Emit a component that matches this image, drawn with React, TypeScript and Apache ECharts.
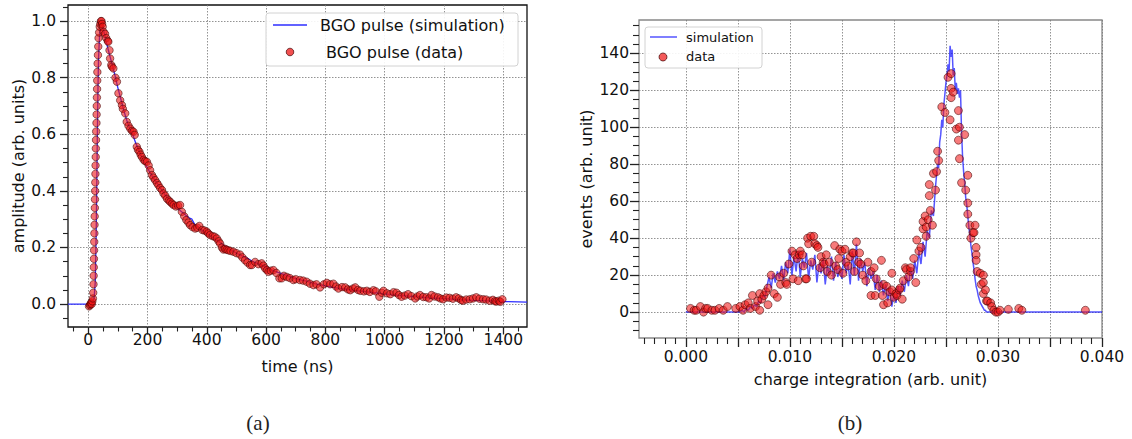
import React, { useEffect, useRef } from "react";
import * as echarts from "echarts";

// ---------- (a) BGO pulse ----------
const pulseTimeTicks = [0, 200, 400, 600, 800, 1000, 1200, 1400];
const pulseAmpTicks = [0, 0.2, 0.4, 0.6, 0.8, 1.0];

const pulseSim: number[][] = [
  [-68, 0], [10, 0], [15, 0.005], [20, 0.02], [24, 0.08], [27, 0.25], [29, 0.42], [31, 0.6],
  [33, 0.76], [35, 0.87], [38, 0.94], [41, 0.98], [44, 0.995], [47, 0.99], [50, 0.975],
  [55, 0.955], [60, 0.93], [70, 0.89], [80, 0.85], [90, 0.81], [100, 0.765], [110, 0.725],
  [120, 0.685], [130, 0.65], [140, 0.62], [150, 0.6], [160, 0.57], [170, 0.545], [180, 0.52],
  [190, 0.5], [200, 0.48], [220, 0.445], [240, 0.415], [260, 0.385], [280, 0.36], [300, 0.34],
  [320, 0.322], [340, 0.305], [350, 0.3], [360, 0.28], [380, 0.264], [400, 0.25], [420, 0.235],
  [440, 0.222], [460, 0.205], [480, 0.193], [500, 0.18], [520, 0.17], [540, 0.16], [560, 0.148],
  [580, 0.14], [600, 0.13], [620, 0.12], [640, 0.112], [660, 0.105], [680, 0.097], [700, 0.09],
  [720, 0.085], [740, 0.08], [760, 0.073], [780, 0.068], [800, 0.064], [850, 0.055], [900, 0.048],
  [950, 0.042], [1000, 0.036], [1050, 0.031], [1100, 0.026], [1150, 0.022], [1200, 0.019],
  [1250, 0.016], [1300, 0.013], [1350, 0.011], [1400, 0.009], [1450, 0.008], [1480, 0.007],
];

const pulseData: number[][] = [
  [3, -0.008], [6, -0.004], [8, 0.0], [10, 0.005], [12, 0.0], [14, 0.01], [16, 0.02], [17, 0.04],
  [18, 0.07], [18.5, 0.1], [19, 0.13], [19.5, 0.16], [20, 0.19], [20.5, 0.22], [21, 0.25],
  [21.5, 0.28], [22, 0.31], [22.5, 0.34], [23, 0.37], [23.5, 0.4], [24, 0.43], [24.5, 0.46],
  [25, 0.49], [25.5, 0.52], [26, 0.55], [26.5, 0.58], [27, 0.61], [28, 0.64], [28.5, 0.67],
  [29, 0.7], [29.5, 0.73], [30, 0.76], [30.5, 0.79], [31, 0.82], [32, 0.85], [33, 0.88],
  [34, 0.91], [35, 0.94], [37, 0.96], [39, 0.98], [41, 0.99], [43, 1.0], [45, 1.0], [47, 0.99],
  [49, 0.98], [52, 0.962], [57, 0.955], [61, 0.94], [66, 0.93], [68, 0.927], [72, 0.897],
  [74, 0.868], [78, 0.845], [80, 0.839], [85, 0.833], [92, 0.8], [97, 0.786], [102, 0.745],
  [108, 0.72], [114, 0.703], [117, 0.69], [125, 0.674], [130, 0.644], [136, 0.63], [142, 0.62],
  [148, 0.612], [153, 0.609], [157, 0.598], [164, 0.556], [168, 0.545], [173, 0.538],
  [177, 0.528], [181, 0.52], [187, 0.51], [192, 0.505], [198, 0.503], [204, 0.49], [209, 0.473],
  [215, 0.456], [220, 0.447], [226, 0.438], [232, 0.428], [237, 0.42], [243, 0.41], [249, 0.403],
  [254, 0.391], [260, 0.383], [266, 0.372], [272, 0.366], [277, 0.361], [283, 0.355], [288, 0.35],
  [296, 0.345], [303, 0.348], [310, 0.35], [316, 0.326], [324, 0.31], [331, 0.297], [338, 0.288],
  [344, 0.279], [352, 0.272], [361, 0.267], [368, 0.27], [375, 0.276], [385, 0.262], [392, 0.26],
  [400, 0.256], [405, 0.25], [411, 0.244], [420, 0.24], [427, 0.238], [434, 0.232], [440, 0.222],
  [445, 0.214], [451, 0.2], [456, 0.193], [462, 0.195], [467, 0.192], [473, 0.19], [480, 0.188],
  [490, 0.185], [500, 0.18], [512, 0.175], [520, 0.165], [529, 0.155], [537, 0.147], [546, 0.138],
  [552, 0.138], [563, 0.149], [574, 0.141], [585, 0.144], [591, 0.136], [597, 0.126], [603, 0.12],
  [608, 0.114], [616, 0.118], [625, 0.12], [635, 0.11], [645, 0.091], [653, 0.091], [660, 0.1],
  [670, 0.096], [680, 0.092], [692, 0.085], [700, 0.088], [714, 0.085], [725, 0.083], [737, 0.079],
  [748, 0.072], [760, 0.067], [770, 0.07], [782, 0.059], [795, 0.07], [805, 0.075], [816, 0.07],
  [827, 0.072], [836, 0.062], [844, 0.055], [856, 0.06], [867, 0.059], [876, 0.052], [884, 0.049],
  [893, 0.055], [901, 0.059], [910, 0.05], [918, 0.047], [930, 0.045], [940, 0.047], [950, 0.043],
  [962, 0.049], [970, 0.045], [982, 0.026], [990, 0.04], [996, 0.047], [1008, 0.038], [1019, 0.035],
  [1030, 0.042], [1040, 0.04], [1048, 0.032], [1057, 0.026], [1068, 0.03], [1079, 0.035],
  [1090, 0.028], [1103, 0.02], [1110, 0.027], [1119, 0.032], [1130, 0.025], [1141, 0.024],
  [1150, 0.02], [1158, 0.032], [1168, 0.027], [1180, 0.024], [1188, 0.02], [1197, 0.017],
  [1208, 0.023], [1219, 0.022], [1230, 0.019], [1241, 0.024], [1250, 0.02], [1258, 0.014],
  [1264, 0.012], [1275, 0.016], [1287, 0.017], [1298, 0.02], [1309, 0.024], [1320, 0.019],
  [1332, 0.017], [1342, 0.016], [1354, 0.012], [1365, 0.015], [1372, 0.01], [1377, 0.009],
  [1385, 0.012], [1390, 0.008], [1397, 0.017],
];

// ---------- (b) charge spectrum ----------
const chargeTicks = [0, 0.005, 0.01, 0.015, 0.02, 0.025, 0.03, 0.035, 0.04];
const chargeLabelTicks = [0, 0.01, 0.02, 0.03, 0.04];
const eventTicks = [0, 20, 40, 60, 80, 100, 120, 140];

const chargeSim: number[][] = [
  [0, 0], [0.0050, 0], [0.0052, 0], [0.0054, 1], [0.0056, 0], [0.0058, 2], [0.0060, 1],
  [0.0062, 3], [0.0064, 2], [0.0066, 4], [0.0068, 3], [0.0070, 6], [0.0072, 5], [0.0074, 9],
  [0.0076, 8], [0.0078, 14], [0.0080, 19], [0.0082, 13], [0.0084, 21], [0.0086, 16],
  [0.0088, 22], [0.0090, 18], [0.0092, 25], [0.0094, 17], [0.0096, 27], [0.0098, 21],
  [0.0100, 34], [0.0102, 20], [0.0104, 30], [0.0106, 22], [0.0108, 33], [0.0110, 19],
  [0.0112, 29], [0.0114, 24], [0.0116, 32], [0.0118, 18], [0.0120, 28], [0.0122, 23],
  [0.0124, 31], [0.0126, 16], [0.0128, 26], [0.0130, 21], [0.0132, 29], [0.0134, 15],
  [0.0136, 25], [0.0138, 20], [0.0140, 30], [0.0142, 17], [0.0144, 27], [0.0146, 19],
  [0.0148, 24], [0.0150, 18], [0.0152, 31], [0.0154, 21], [0.0156, 26], [0.0158, 15],
  [0.0160, 33], [0.0162, 20], [0.0164, 37], [0.0166, 17], [0.0168, 29], [0.0170, 22],
  [0.0172, 27], [0.0174, 14], [0.0176, 24], [0.0178, 18], [0.0180, 22], [0.0182, 12],
  [0.0184, 20], [0.0186, 11], [0.0188, 17], [0.0190, 9], [0.0192, 15], [0.0194, 6],
  [0.0196, 13], [0.0198, 3], [0.0200, 10], [0.0202, 5], [0.0204, 14], [0.0206, 9],
  [0.0208, 17], [0.0210, 11], [0.0212, 20], [0.0214, 14], [0.0216, 24], [0.0218, 18],
  [0.0220, 28], [0.0222, 21], [0.0224, 33], [0.0226, 26], [0.0228, 38], [0.0230, 30],
  [0.0232, 44], [0.0234, 40], [0.0236, 55], [0.0238, 52], [0.0240, 68], [0.0241, 74],
  [0.0242, 80], [0.0243, 78], [0.0244, 92], [0.0245, 96], [0.0246, 104], [0.0247, 100],
  [0.0248, 112], [0.0249, 118], [0.0250, 124], [0.0251, 128], [0.0252, 134], [0.0253, 130],
  [0.0254, 144], [0.0255, 138], [0.0256, 142], [0.0257, 128], [0.0258, 132], [0.0259, 120],
  [0.0260, 124], [0.0261, 118], [0.0262, 121], [0.0263, 116], [0.0264, 120], [0.0265, 98],
  [0.0266, 84], [0.0267, 76], [0.0268, 70], [0.0269, 62], [0.0270, 58], [0.0271, 52],
  [0.0272, 46], [0.0273, 42], [0.0274, 36], [0.0275, 32], [0.0276, 27], [0.0277, 23],
  [0.0278, 18], [0.0279, 14], [0.0280, 12], [0.0281, 9], [0.0282, 7], [0.0283, 5], [0.0284, 4],
  [0.0285, 3], [0.0286, 2], [0.0287, 1], [0.0288, 1], [0.0289, 0], [0.0290, 0], [0.040, 0],
];

const chargeData: number[][] = [
  [0.00045, 2], [0.0008, 1], [0.001, 1], [0.0014, 3], [0.0017, 0], [0.0019, 2], [0.0021, 2],
  [0.0025, 1], [0.0028, 1], [0.0032, 2], [0.0036, 1], [0.004, 3], [0.0048, 2], [0.0052, 3],
  [0.0055, 1], [0.0057, 4], [0.006, 5], [0.0062, 2], [0.0064, 9], [0.0067, 3], [0.0069, 6],
  [0.0071, 1], [0.0071, 10], [0.0073, 7], [0.0075, 9], [0.0077, 11], [0.0079, 4], [0.0079, 13],
  [0.0082, 20], [0.0085, 10], [0.0088, 8], [0.009, 19], [0.0091, 15], [0.0094, 21], [0.0096, 16],
  [0.0097, 15], [0.0099, 26], [0.0102, 33], [0.0103, 18], [0.0105, 31], [0.0107, 29],
  [0.0108, 17], [0.0109, 31], [0.011, 33], [0.0112, 31], [0.0113, 25], [0.0115, 18], [0.0116, 18],
  [0.0117, 40], [0.0118, 37], [0.012, 41], [0.0121, 27], [0.0123, 41], [0.0124, 37], [0.0126, 36],
  [0.0127, 35], [0.0129, 24], [0.013, 30], [0.0132, 27], [0.0133, 26], [0.0135, 31], [0.0136, 22],
  [0.0138, 27], [0.014, 20], [0.0143, 36], [0.0144, 25], [0.0146, 23], [0.0147, 29], [0.0148, 34],
  [0.015, 33], [0.0151, 21], [0.0153, 34], [0.0154, 27], [0.0156, 25], [0.0158, 30], [0.016, 32],
  [0.0161, 32], [0.0162, 22], [0.0164, 38], [0.0166, 27], [0.0167, 32], [0.0168, 26], [0.017, 20],
  [0.0173, 17], [0.0175, 27], [0.0178, 22], [0.0178, 9], [0.0181, 24], [0.0182, 9], [0.0183, 18],
  [0.0186, 14], [0.0188, 28], [0.0189, 9], [0.019, 15], [0.019, 4], [0.0193, 14], [0.0194, 5],
  [0.0196, 11], [0.0198, 21], [0.0198, 12], [0.02, 8], [0.0202, 10], [0.0203, 9], [0.0205, 12],
  [0.0206, 13], [0.0208, 7], [0.0209, 17], [0.0211, 24], [0.0212, 23], [0.0214, 19], [0.0216, 22],
  [0.0216, 24], [0.0219, 29], [0.0221, 16], [0.0222, 39], [0.0224, 33], [0.0226, 35], [0.0228, 45],
  [0.0228, 49], [0.023, 52], [0.0231, 41], [0.0231, 46], [0.0233, 50], [0.0234, 63], [0.0234, 69],
  [0.0235, 55], [0.0237, 47], [0.0238, 75], [0.024, 66], [0.0241, 76], [0.0242, 87], [0.0243, 82],
  [0.0246, 111], [0.0249, 108], [0.0252, 127], [0.0254, 104], [0.0255, 129], [0.0255, 121],
  [0.0255, 116], [0.0257, 119], [0.026, 99], [0.0262, 109], [0.0262, 93], [0.0263, 100],
  [0.0263, 83], [0.0265, 70], [0.0268, 96], [0.0269, 66], [0.0271, 74], [0.0271, 59], [0.0271, 53],
  [0.0273, 47], [0.0274, 40], [0.0276, 43], [0.0277, 43], [0.0278, 47], [0.0279, 35], [0.0279, 31],
  [0.0279, 28], [0.028, 22], [0.0283, 21], [0.0284, 15], [0.0286, 20], [0.0286, 10], [0.0286, 16],
  [0.0288, 12], [0.0289, 6], [0.029, 6], [0.0293, 5], [0.0294, 3], [0.0296, 1], [0.0298, 0],
  [0.03, 0], [0.0302, 1], [0.031, 1.5], [0.032, 2], [0.0323, 1], [0.0384, 1],
];

// ---------- helpers ----------
const FONT = "DejaVu Sans";
const TICK = "#222";

function minorTicks(start: number, end: number, step: number, majors: number[], scale: number) {
  const out: number[] = [];
  const n = Math.round((end - start) / step);
  for (let i = 0; i <= n; i++) {
    const v = Math.round((start + i * step) * scale) / scale;
    if (!majors.some((m) => Math.abs(m - v) < step / 10)) out.push(v);
  }
  return out;
}

function majorAxis(p: any) {
  return {
    type: "value",
    gridIndex: p.grid,
    min: p.min,
    max: p.max,
    position: p.position,
    axisLine: { show: false, onZero: false },
    axisTick: {
      show: true,
      customValues: p.ticks,
      length: p.tickLen,
      lineStyle: { color: TICK, width: 1.3 },
    },
    axisLabel: {
      show: true,
      customValues: p.labels,
      margin: p.margin,
      fontSize: 15.5,
      color: "#111",
      fontFamily: FONT,
      formatter: p.fmt,
    },
    splitLine: {
      show: true,
      lineStyle: { type: [1.5, 1.5], color: "#777", width: 0.8 },
    },
    name: p.name,
    nameLocation: "middle",
    nameGap: p.nameGap,
    nameTextStyle: { fontSize: 16, color: "#111", fontFamily: FONT },
  };
}

function minorAxis(p: any) {
  return {
    type: "value",
    gridIndex: p.grid,
    min: p.min,
    max: p.max,
    position: p.position,
    axisLine: { show: false, onZero: false },
    axisTick: {
      show: true,
      customValues: p.ticks,
      length: p.tickLen,
      lineStyle: { color: TICK, width: 1.1 },
    },
    axisLabel: { show: false },
    splitLine: { show: false },
  };
}

export default function App() {
  const ref = useRef<HTMLDivElement>(null);

  useEffect(() => {
    if (!ref.current) return;
    const chart = echarts.init(ref.current, undefined, { renderer: "svg" });

    const aX = { min: -68, max: 1480 };
    const aY = { min: -0.081, max: 1.057 };
    const bX = { min: -0.0045, max: 0.04 };
    const bY = { min: -14, max: 158 };

    const dotFill = "rgba(238,22,22,0.75)";
    const dotEdge = "rgba(60,0,0,0.85)";

    const option: any = {
      animation: false,
      backgroundColor: "#fff",
      grid: [
        { left: 68, top: 5, width: 459, height: 322, show: true, borderColor: "#111", borderWidth: 1.3, backgroundColor: "transparent" },
        { left: 639, top: 20, width: 463, height: 318, show: true, borderColor: "#888", borderWidth: 1.3, backgroundColor: "transparent" },
      ],
      xAxis: [
        majorAxis({ grid: 0, ...aX, position: "bottom", ticks: pulseTimeTicks, labels: pulseTimeTicks, tickLen: 7.5, margin: 5, fmt: (v: number) => String(Math.round(v)), name: "time (ns)", nameGap: 31 }),
        minorAxis({ grid: 0, ...aX, position: "bottom", ticks: minorTicks(-50, 1450, 50, pulseTimeTicks, 1), tickLen: 4.5 }),
        majorAxis({ grid: 1, ...bX, position: "bottom", ticks: chargeTicks, labels: chargeLabelTicks, tickLen: 9, margin: 11, fmt: (v: number) => v.toFixed(3), name: "charge integration (arb. unit)", nameGap: 33 }),
        minorAxis({ grid: 1, ...bX, position: "bottom", ticks: minorTicks(-0.004, 0.039, 0.001, chargeTicks, 1000), tickLen: 6 }),
      ],
      yAxis: [
        majorAxis({ grid: 0, ...aY, position: "left", ticks: pulseAmpTicks, labels: pulseAmpTicks, tickLen: 8, margin: 12, fmt: (v: number) => v.toFixed(1), name: "amplitude (arb. units)", nameGap: 42 }),
        minorAxis({ grid: 0, ...aY, position: "left", ticks: minorTicks(-0.05, 1.05, 0.05, pulseAmpTicks, 100), tickLen: 5 }),
        majorAxis({ grid: 1, ...bY, position: "left", ticks: eventTicks, labels: eventTicks, tickLen: 9, margin: 10, fmt: (v: number) => String(Math.round(v)), name: "events (arb. unit)", nameGap: 45 }),
        minorAxis({ grid: 1, ...bY, position: "left", ticks: minorTicks(-10, 155, 5, eventTicks, 1), tickLen: 6 }),
      ],
      series: [
        {
          name: "BGO pulse (simulation)",
          type: "line",
          xAxisIndex: 0,
          yAxisIndex: 0,
          data: pulseSim,
          symbol: "none",
          lineStyle: { color: "#2e2eff", width: 1.3 },
          z: 2,
        },
        {
          name: "BGO pulse (data)",
          type: "scatter",
          xAxisIndex: 0,
          yAxisIndex: 0,
          data: pulseData,
          symbolSize: 7.5,
          itemStyle: { color: dotFill, borderColor: dotEdge, borderWidth: 0.8 },
          z: 3,
        },
        {
          name: "simulation",
          type: "line",
          xAxisIndex: 2,
          yAxisIndex: 2,
          data: chargeSim,
          symbol: "none",
          lineStyle: { color: "rgba(20,20,255,0.72)", width: 1.5 },
          z: 2,
        },
        {
          name: "data",
          type: "scatter",
          xAxisIndex: 2,
          yAxisIndex: 2,
          data: chargeData,
          symbolSize: 8,
          itemStyle: { color: "rgba(240,20,20,0.7)", borderColor: dotEdge, borderWidth: 0.8 },
          z: 3,
        },
      ],
      graphic: [
        // legend (a)
        { type: "rect", z: 100, shape: { x: 266, y: 13, width: 252, height: 53, r: 3 }, style: { fill: "rgba(255,255,255,0.9)", stroke: "#d2d2d2", lineWidth: 1 } },
        { type: "line", z: 101, shape: { x1: 273, y1: 25, x2: 307, y2: 25 }, style: { stroke: "#2e2eff", lineWidth: 1.3 } },
        { type: "text", z: 101, x: 320, y: 25, style: { text: "BGO pulse (simulation)", fontSize: 16, fontFamily: FONT, fill: "#111", verticalAlign: "middle" } },
        { type: "circle", z: 101, shape: { cx: 290, cy: 52, r: 3.8 }, style: { fill: dotFill, stroke: dotEdge, lineWidth: 0.8 } },
        { type: "text", z: 101, x: 326, y: 52, style: { text: "BGO pulse (data)", fontSize: 16, fontFamily: FONT, fill: "#111", verticalAlign: "middle" } },
        // legend (b)
        { type: "rect", z: 100, shape: { x: 645, y: 27, width: 117, height: 41, r: 3 }, style: { fill: "rgba(255,255,255,0.9)", stroke: "#d2d2d2", lineWidth: 1 } },
        { type: "line", z: 101, shape: { x1: 650, y1: 37, x2: 677, y2: 37 }, style: { stroke: "rgba(20,20,255,0.72)", lineWidth: 1.5 } },
        { type: "text", z: 101, x: 686, y: 37, style: { text: "simulation", fontSize: 13, fontFamily: FONT, fill: "#111", verticalAlign: "middle" } },
        { type: "circle", z: 101, shape: { cx: 663, cy: 57, r: 4 }, style: { fill: "rgba(240,20,20,0.7)", stroke: dotEdge, lineWidth: 0.8 } },
        { type: "text", z: 101, x: 686, y: 56, style: { text: "data", fontSize: 13, fontFamily: FONT, fill: "#111", verticalAlign: "middle" } },
        // captions
        { type: "text", z: 101, x: 258, y: 423, style: { text: "(a)", fontSize: 21, fontFamily: "Liberation Serif", fill: "#222", align: "center", verticalAlign: "middle" } },
        { type: "text", z: 101, x: 850, y: 423, style: { text: "(b)", fontSize: 21, fontFamily: "Liberation Serif", fill: "#222", align: "center", verticalAlign: "middle" } },
      ],
    };

    chart.setOption(option);
    return () => chart.dispose();
  }, []);

  return (
    <div
      ref={ref}
      style={{ position: "absolute", left: 0, top: 0, width: 1132, height: 439, background: "#fff" }}
    />
  );
}
